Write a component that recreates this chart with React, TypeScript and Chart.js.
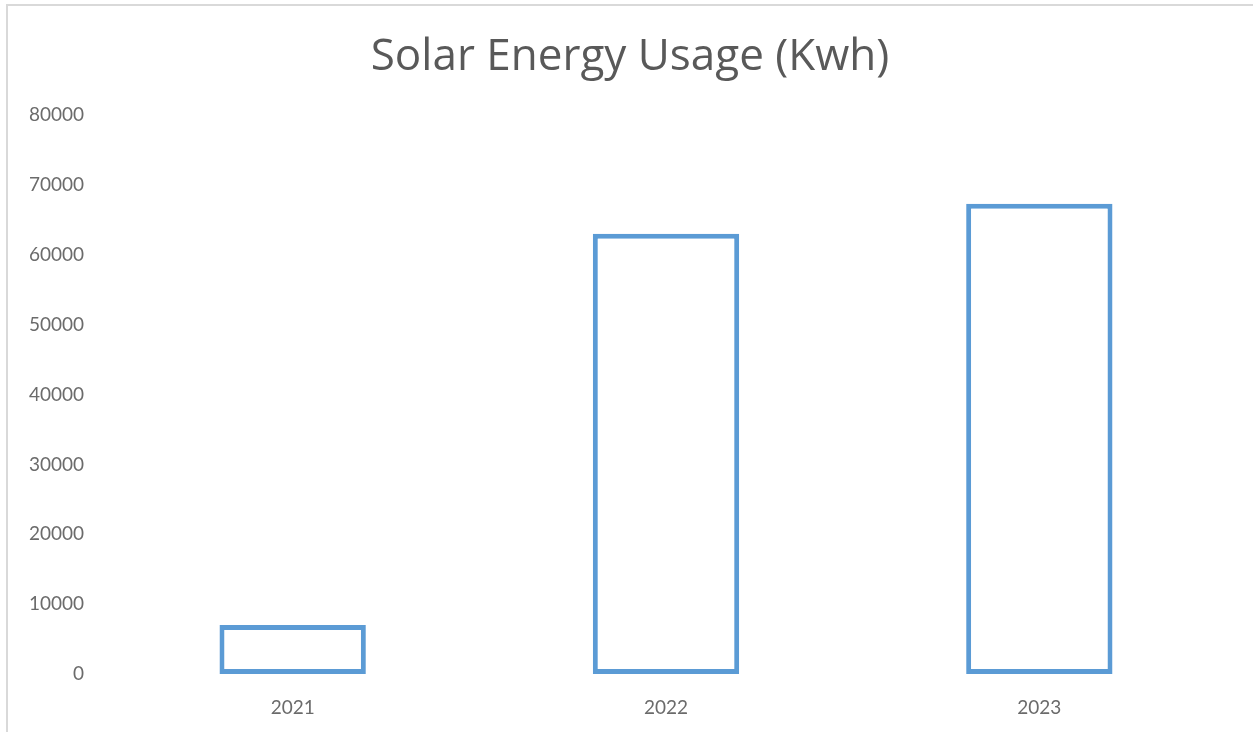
import React, { useEffect, useRef } from "react";
import { Chart, registerables } from "chart.js";

Chart.register(...registerables);

const TITLE = "Solar Energy Usage (Kwh)";
const categories = ["2021", "2022", "2023"];
const usage = [7000, 63000, 67300];
const yTicks = [0, 10000, 20000, 30000, 40000, 50000, 60000, 70000, 80000];

const titlePlugin = {
  id: "centeredTitle",
  afterDraw(chart: any) {
    const ctx = chart.ctx;
    ctx.save();
    ctx.fillStyle = "#595959";
    ctx.font = "normal 44px 'Open Sans', sans-serif";
    ctx.textAlign = "center";
    ctx.textBaseline = "middle";
    ctx.fillText(TITLE, 630, 57);
    ctx.restore();
  },
};

export default function App() {
  const ref = useRef<HTMLCanvasElement | null>(null);

  useEffect(() => {
    if (!ref.current) return;
    const chart = new Chart(ref.current, {
      type: "bar",
      data: {
        labels: categories,
        datasets: [
          {
            label: "Usage",
            data: usage,
            backgroundColor: "#ffffff",
            borderColor: "#5b9bd5",
            borderWidth: 5,
            borderSkipped: false,
            categoryPercentage: 1,
            barPercentage: 0.392,
          },
        ],
      },
      options: {
        responsive: false,
        animation: false,
        layout: { padding: { left: 0, right: 27, top: 115, bottom: 0 } },
        plugins: {
          legend: { display: false },
          tooltip: { enabled: false },
          title: { display: false },
        },
        scales: {
          x: {
            grid: { display: false, drawTicks: false },
            border: { display: false },
            ticks: {
              color: "#6b6b6b",
              font: { family: "Lato, sans-serif", size: 19 },
              padding: 22,
            },
            afterFit: (s: any) => {
              s.height = 58;
            },
          },
          y: {
            min: 0,
            max: 80000,
            grid: { display: false, drawTicks: false },
            border: { display: false },
            afterBuildTicks: (s: any) => {
              s.ticks = yTicks.map((v) => ({ value: v }));
            },
            ticks: {
              color: "#6b6b6b",
              font: { family: "Lato, sans-serif", size: 19 },
              padding: 22,
              callback: (v: any) => String(v),
            },
            afterFit: (s: any) => {
              s.width = 106;
            },
          },
        },
      },
      plugins: [titlePlugin],
    });
    return () => chart.destroy();
  }, []);

  return (
    <div style={{ position: "fixed", left: 0, top: 0, width: 1253, height: 732, background: "#fff" }}>
      <div
        style={{
          position: "absolute",
          left: 6,
          top: 4,
          right: 0,
          bottom: 0,
          borderLeft: "2px solid #d9d9d9",
          borderTop: "2px solid #d9d9d9",
        }}
      />
      <canvas ref={ref} width={1253} height={732} style={{ position: "absolute", left: 0, top: 0 }} />
    </div>
  );
}
